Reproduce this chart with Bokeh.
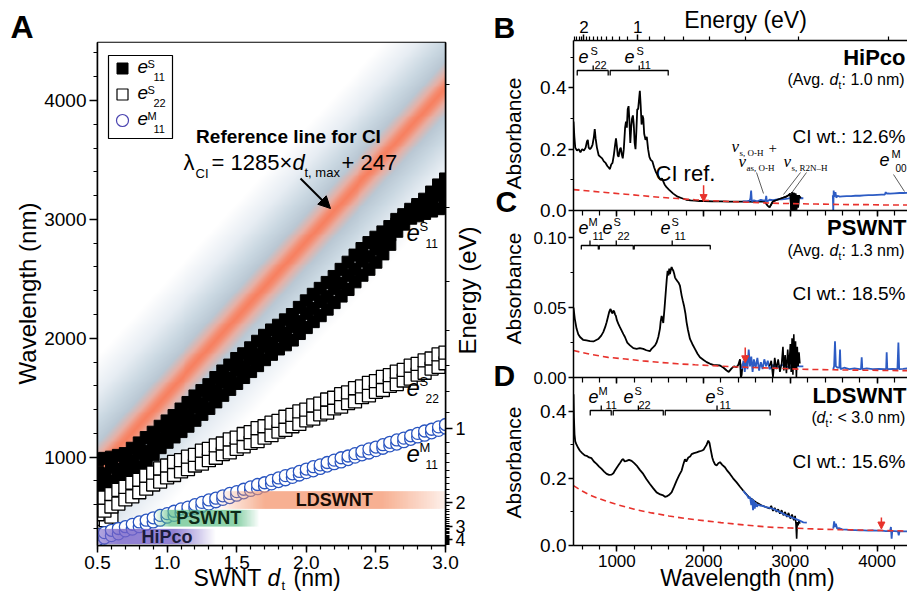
import numpy as np
from bokeh.plotting import figure
from bokeh.layouts import row, column
from bokeh.models import (Range1d, LinearAxis, FixedTicker, SingleIntervalTicker,
                          Label, Arrow, NormalHead, PrintfTickFormatter)
from bokeh.embed import file_html
from bokeh.resources import INLINE

SANS = "Liberation Sans"
SERIF = "Liberation Serif"
BLUE = "#2d5cc4"
RED = "#e8322c"
CIRC = "#2a55c0"

# ====================== DATA ======================
# Panel A (Kataura-type plot): SWNT diameter (nm) vs transition wavelength (nm)
d_grid = [0.50, 0.55, 0.60, 0.65, 0.70, 0.75, 0.80, 0.85, 0.90, 0.95,
          1.00, 1.05, 1.10, 1.15, 1.20, 1.25, 1.30, 1.35, 1.40, 1.45,
          1.50, 1.55, 1.60, 1.65, 1.70, 1.75, 1.80, 1.85, 1.90, 1.95,
          2.00, 2.05, 2.10, 2.15, 2.20, 2.25, 2.30, 2.35, 2.40, 2.45,
          2.50, 2.55, 2.60, 2.65, 2.70, 2.75, 2.80, 2.85, 2.90, 2.95, 3.00]
e11s_lo = [745, 770, 800, 825, 855, 885, 920, 960, 1020, 1080,
           1125, 1170, 1215, 1260, 1310, 1360, 1410, 1465, 1520, 1570,
           1620, 1670, 1720, 1770, 1820, 1865, 1910, 1945, 1985, 2040,
           2090, 2140, 2190, 2245, 2300, 2355, 2410, 2475, 2530, 2580,
           2640, 2710, 2790, 2900, 2960, 3010, 3030, 3050, 3070, 3090, 3110]
e11s_mid = [870, 860, 910, 900, 950, 970, 1030, 1050, 1120, 1160,
            1225, 1250, 1320, 1350, 1420, 1450, 1520, 1560, 1630, 1665,
            1730, 1765, 1825, 1865, 1930, 1960, 2020, 2045, 2100, 2140,
            2210, 2250, 2310, 2350, 2420, 2460, 2530, 2580, 2650, 2685,
            2750, 2800, 2870, 2960, 3010, 3060, 3100, 3140, 3170, 3200, 3240]
e11s_hi = [980, 990, 1000, 1015, 1030, 1075, 1120, 1165, 1210, 1260,
           1305, 1350, 1405, 1460, 1515, 1560, 1610, 1670, 1725, 1775,
           1830, 1870, 1920, 1975, 2025, 2070, 2110, 2155, 2200, 2260,
           2315, 2370, 2420, 2470, 2520, 2580, 2640, 2700, 2755, 2805,
           2850, 2895, 2940, 3000, 3040, 3085, 3125, 3170, 3230, 3290, 3340]
e22s_lo = [520, 550, 585, 610, 645, 670, 705, 735, 770, 795,
           830, 850, 880, 900, 930, 945, 975, 995, 1025, 1040,
           1070, 1090, 1120, 1135, 1165, 1185, 1215, 1230, 1260, 1280,
           1310, 1325, 1360, 1375, 1410, 1425, 1455, 1470, 1505, 1520,
           1550, 1565, 1600, 1615, 1645, 1660, 1695, 1710, 1745, 1760, 1790]
e22s_hi = [640, 660, 690, 725, 750, 785, 810, 845, 870, 905,
           930, 960, 975, 1005, 1020, 1055, 1070, 1100, 1115, 1150,
           1165, 1195, 1210, 1245, 1260, 1290, 1305, 1340, 1355, 1385,
           1400, 1435, 1450, 1485, 1500, 1530, 1545, 1580, 1595, 1625,
           1640, 1675, 1690, 1720, 1735, 1770, 1785, 1815, 1830, 1865, 1880]
e22s_extra_d = [0.50, 0.52, 0.56, 0.60]
e22s_extra_l = [455, 480, 470, 500]
e11m_lo = [305, 320, 340, 355, 380, 395, 415, 435, 455, 470,
           495, 510, 530, 550, 570, 585, 605, 625, 645, 660,
           680, 700, 720, 735, 755, 775, 795, 810, 830, 850,
           870, 885, 905, 925, 945, 960, 980, 1000, 1020, 1035,
           1055, 1075, 1095, 1110, 1130, 1150, 1170, 1185, 1205, 1225, 1245]
e11m_hi = [350, 365, 385, 400, 415, 435, 455, 470, 490, 510,
           525, 545, 565, 580, 600, 620, 640, 655, 675, 695,
           710, 730, 750, 770, 785, 805, 825, 845, 860, 880,
           900, 920, 935, 955, 975, 995, 1010, 1030, 1050, 1070,
           1085, 1105, 1125, 1145, 1160, 1180, 1200, 1220, 1235, 1255, 1275]

ci_slope, ci_intercept = 1285, 247          # lambda_CI = 1285 x d_t,max + 247

bar_names = ["HiPco", "PSWNT", "LDSWNT"]
bar_lam_low = [268, 416, 565]
bar_lam_high = [397, 557, 714]
bar_alpha_d = [[0.50, 0.65, 1.05, 1.35], [0.90, 1.02, 1.50, 1.66], [1.34, 1.70, 2.55, 3.00]]
bar_alpha_a = [[0.55, 0.80, 0.80, 0.0], [0.0, 0.72, 0.72, 0.0], [0.0, 0.75, 0.75, 0.15]]
bar_rgb = [(118, 98, 200), (96, 192, 136), (244, 150, 110)]
bar_text_d = [1.0, 1.3, 2.2]
bar_text_color = ["#1b1b3b", "#0d2b18", "#1a0d05"]

energy_major_A = [1.0, 2.0, 3.0, 4.0]
energy_major_B = [1.0, 2.0]

# Panel B (HiPco)
B_blk_x = [500, 510, 520, 540, 560, 580, 600, 620, 640, 655,
           665, 675, 690, 705, 720, 735, 745, 755, 770, 790,
           810, 830, 850, 870, 890, 905, 920, 935, 950, 965,
           980, 990, 1000, 1010, 1020, 1035, 1045, 1055, 1068, 1080,
           1095, 1105, 1115, 1125, 1135, 1145, 1155, 1165, 1175, 1185,
           1195, 1205, 1215, 1225, 1235, 1245, 1255, 1265, 1275, 1285,
           1295, 1305, 1315, 1330, 1345, 1360, 1375, 1390, 1410, 1430,
           1450, 1470, 1490, 1505, 1520, 1535, 1550, 1575, 1600, 1650,
           1700, 1750, 1800, 1850, 1900, 1950, 2000, 2100, 2200, 2300,
           2400, 2500, 2600, 2700, 2740, 2760, 2780, 2800, 2850, 2900,
           2950, 2980, 3000, 3010, 3020, 3030, 3040, 3050, 3060, 3070,
           3080, 3090, 3100, 3110, 3120]
B_blk_y = [0.29, 0.24, 0.205, 0.195, 0.2, 0.19, 0.2, 0.195, 0.205, 0.225,
           0.23, 0.205, 0.2, 0.205, 0.215, 0.24, 0.265, 0.235, 0.205, 0.18,
           0.175, 0.17, 0.16, 0.155, 0.145, 0.14, 0.135, 0.15, 0.155, 0.18,
           0.215, 0.235, 0.21, 0.18, 0.175, 0.2, 0.205, 0.185, 0.17, 0.2,
           0.27, 0.29, 0.27, 0.33, 0.34, 0.29, 0.22, 0.27, 0.3, 0.31,
           0.28, 0.22, 0.2, 0.26, 0.33, 0.33, 0.36, 0.39, 0.34, 0.28,
           0.31, 0.3, 0.25, 0.23, 0.24, 0.2, 0.175, 0.165, 0.16, 0.14,
           0.125, 0.115, 0.105, 0.1, 0.105, 0.095, 0.085, 0.075, 0.068, 0.055,
           0.045, 0.04, 0.035, 0.033, 0.032, 0.031, 0.031, 0.03, 0.03, 0.029,
           0.029, 0.029, 0.028, 0.03, 0.015, 0.01, 0.02, 0.03, 0.035, 0.04,
           0.045, 0.05, 0.055, 0.0, 0.06, 0.002, 0.058, 0.0, 0.055, 0.003,
           0.05, 0.01, 0.05, 0.04, 0.045]
B_bl1_x = [2450, 2500, 2530, 2540, 2548, 2556, 2580, 2620, 2660, 2700,
           2715, 2722, 2730, 2760, 2800, 2850, 2900, 2950, 3000, 3050, 3100, 3150]
B_bl1_y = [0.03, 0.03, 0.032, 0.04, 0.065, 0.03, 0.033, 0.03, 0.035, 0.032,
           0.034, 0.048, 0.028, 0.035, 0.034, 0.036, 0.036, 0.038, 0.04, 0.038, 0.04, 0.04]
B_bl2_x = [3490, 3495, 3500, 3505, 3512, 3520, 3530, 3545, 3570, 3600,
           3650, 3700, 3750, 3800, 3850, 3900, 3950, 4000, 4050, 4090,
           4100, 4110, 4125, 4150, 4200, 4260, 4300, 4360]
B_bl2_y = [0.05, 0.0, 0.065, 0.045, 0.05, 0.06, 0.042, 0.048, 0.045, 0.046,
           0.047, 0.047, 0.048, 0.048, 0.049, 0.05, 0.05, 0.051, 0.052, 0.052,
           0.06, 0.055, 0.056, 0.055, 0.056, 0.057, 0.057, 0.058]
B_red_x = [500, 700, 900, 1100, 1300, 1500, 1700, 1900, 2100, 2300,
           2500, 2700, 2900, 3100, 3300, 3500, 3700, 3900, 4100, 4360]
B_red_y = [0.068, 0.063, 0.058, 0.053, 0.048, 0.043, 0.039, 0.035, 0.032, 0.029,
           0.027, 0.025, 0.023, 0.022, 0.021, 0.02, 0.019, 0.019, 0.018, 0.018]

# Panel C (PSWNT)
C_blk_x = [500, 515, 535, 555, 575, 610, 650, 690, 730, 785,
           820, 843, 865, 882, 900, 912, 925, 931, 940, 951,
           960, 970, 980, 989, 1000, 1016, 1035, 1055, 1075, 1093,
           1120, 1151, 1190, 1228, 1265, 1304, 1340, 1381, 1400, 1420,
           1440, 1458, 1478, 1497, 1505, 1516, 1525, 1535, 1550, 1566,
           1575, 1585, 1595, 1604, 1612, 1622, 1631, 1641, 1651, 1660,
           1670, 1680, 1697, 1710, 1727, 1747, 1760, 1774, 1790, 1804,
           1820, 1843, 1870, 1900, 1930, 1958, 2000, 2035, 2075, 2112,
           2150, 2189, 2230, 2266, 2290, 2323, 2350, 2381, 2400, 2420,
           2430, 2439, 2450, 2458]
C_blk_y = [0.05, 0.042, 0.035, 0.031, 0.029, 0.027, 0.0265, 0.026, 0.0258, 0.0275,
           0.03, 0.0325, 0.036, 0.0395, 0.044, 0.047, 0.049, 0.0485, 0.0465, 0.046,
           0.048, 0.047, 0.045, 0.044, 0.041, 0.0385, 0.036, 0.0335, 0.031, 0.029,
           0.025, 0.023, 0.021, 0.0205, 0.021, 0.0205, 0.0195, 0.0188, 0.0205, 0.0217,
           0.023, 0.025, 0.029, 0.035, 0.04, 0.044, 0.042, 0.039, 0.05, 0.063,
           0.07, 0.0764, 0.073, 0.078, 0.074, 0.077, 0.079, 0.0775, 0.0764, 0.0745,
           0.0717, 0.0705, 0.069, 0.068, 0.0657, 0.0586, 0.055, 0.0514, 0.046, 0.0395,
           0.034, 0.0276, 0.024, 0.0205, 0.017, 0.0145, 0.0125, 0.011, 0.0098, 0.009,
           0.0088, 0.0086, 0.007, 0.005, 0.004, 0.0065, 0.008, 0.0075, 0.009, 0.013,
           0.0, 0.002, 0.01, 0.007]
C_bk2_x = [2760, 2780, 2800, 2820, 2840, 2860, 2880, 2900, 2915, 2925,
           2940, 2955, 2970, 2985, 3000, 3010, 3020, 3030, 3040, 3050,
           3060, 3070, 3080, 3090, 3100, 3110]
C_bk2_y = [0.008, 0.012, 0.0, 0.014, 0.006, 0.013, 0.004, 0.01, 0.022, 0.005,
           0.016, 0.003, 0.02, 0.006, 0.024, 0.004, 0.028, 0.002, 0.031, 0.006,
           0.026, 0.0, 0.022, 0.008, 0.018, 0.01]
C_bl1_x = [2440, 2460, 2475, 2490, 2505, 2520, 2535, 2550, 2565, 2580,
           2600, 2620, 2640, 2660, 2680, 2700, 2720, 2740, 2760, 2800,
           2850, 2900, 2950, 3000, 3050, 3100, 3150]
C_bl1_y = [0.006, 0.012, 0.004, 0.016, 0.006, 0.02, 0.008, 0.015, 0.004, 0.013,
           0.007, 0.014, 0.005, 0.011, 0.006, 0.013, 0.008, 0.012, 0.006, 0.009,
           0.007, 0.009, 0.008, 0.007, 0.009, 0.008, 0.008]
C_bl2_x = [3495, 3505, 3515, 3525, 3545, 3565, 3573, 3580, 3620, 3680,
           3740, 3800, 3815, 3823, 3830, 3880, 3950, 4020, 4090, 4105,
           4111, 4118, 4180, 4235, 4246, 4255, 4300, 4360]
C_bl2_y = [0.006, 0.008, 0.026, 0.008, 0.007, 0.007, 0.02, 0.006, 0.007, 0.006,
           0.0065, 0.006, 0.006, 0.0145, 0.006, 0.0065, 0.006, 0.0062, 0.006, 0.006,
           0.018, 0.006, 0.0062, 0.006, 0.025, 0.006, 0.0062, 0.0065]
C_red_x = [500, 700, 900, 1100, 1300, 1500, 1700, 1900, 2100, 2300,
           2500, 2700, 2900, 3100, 3300, 3500, 3700, 3900, 4100, 4360]
C_red_y = [0.0193, 0.0165, 0.0144, 0.0132, 0.0119, 0.0108, 0.0098, 0.0091, 0.0085, 0.0078,
           0.0073, 0.0069, 0.0065, 0.0060, 0.0057, 0.0055, 0.0053, 0.0052, 0.0050, 0.0049]

# Panel D (LDSWNT)
D_blk_x = [500, 505, 512, 520, 535, 555, 574, 600, 630, 651,
           680, 708, 735, 766, 795, 824, 853, 882, 910, 939,
           960, 978, 995, 1016, 1040, 1060, 1074, 1090, 1112, 1140,
           1170, 1200, 1228, 1265, 1304, 1340, 1381, 1420, 1458, 1500,
           1535, 1555, 1574, 1600, 1631, 1660, 1689, 1720, 1747, 1765,
           1785, 1800, 1824, 1845, 1862, 1890, 1920, 1950, 1977, 2000,
           2016, 2035, 2054, 2068, 2081, 2100, 2112, 2130, 2150, 2170,
           2189, 2215, 2246, 2275, 2304, 2340, 2381, 2420, 2458]
D_blk_y = [0.45, 0.38, 0.33, 0.31, 0.30, 0.29, 0.282, 0.275, 0.268, 0.267,
           0.262, 0.26, 0.25, 0.243, 0.235, 0.228, 0.22, 0.213, 0.21, 0.211,
           0.215, 0.223, 0.23, 0.238, 0.247, 0.255, 0.257, 0.25, 0.252, 0.255,
           0.252, 0.245, 0.238, 0.225, 0.213, 0.198, 0.183, 0.17, 0.158, 0.152,
           0.149, 0.145, 0.146, 0.15, 0.158, 0.175, 0.193, 0.21, 0.223, 0.24,
           0.257, 0.25, 0.262, 0.265, 0.272, 0.275, 0.277, 0.28, 0.282, 0.285,
           0.292, 0.3, 0.312, 0.305, 0.287, 0.262, 0.252, 0.242, 0.238, 0.245,
           0.248, 0.24, 0.233, 0.222, 0.213, 0.2, 0.188, 0.175, 0.163]
D_bk2_x = [2458, 2520, 2600, 2680, 2760, 2780, 2800, 2820, 2840, 2860,
           2880, 2900, 2920, 2940, 2960, 2980, 3000, 3020, 3040, 3055,
           3065, 3073, 3080, 3090, 3100, 3110]
D_bk2_y = [0.163, 0.145, 0.13, 0.118, 0.11, 0.118, 0.103, 0.112, 0.1, 0.108,
           0.095, 0.105, 0.09, 0.1, 0.085, 0.097, 0.08, 0.092, 0.075, 0.088,
           0.065, 0.02, 0.07, 0.06, 0.075, 0.065]
D_bl1_x = [2458, 2480, 2500, 2520, 2535, 2550, 2560, 2570, 2580, 2590,
           2600, 2615, 2630, 2650, 2680, 2720, 2760, 2804, 2850, 2900,
           2958, 3000, 3050, 3100, 3150, 3190]
D_bl1_y = [0.163, 0.155, 0.15, 0.14, 0.145, 0.12, 0.14, 0.105, 0.135, 0.11,
           0.128, 0.115, 0.122, 0.119, 0.118, 0.114, 0.112, 0.109, 0.103, 0.097,
           0.089, 0.085, 0.08, 0.075, 0.069, 0.068]
D_bl2_x = [3495, 3505, 3515, 3525, 3540, 3560, 3600, 3650, 3700, 3750,
           3800, 3850, 3900, 3950, 4000, 4050, 4100, 4150, 4160, 4168,
           4175, 4200, 4240, 4250, 4260, 4300, 4360]
D_bl2_y = [0.05, 0.072, 0.055, 0.065, 0.05, 0.052, 0.048, 0.047, 0.046, 0.046,
           0.045, 0.045, 0.044, 0.045, 0.044, 0.044, 0.043, 0.043, 0.055, 0.02,
           0.043, 0.043, 0.042, 0.03, 0.043, 0.042, 0.042]
D_red_x = [500, 600, 700, 800, 900, 1000, 1200, 1400, 1600, 1800, 2000, 2200,
           2400, 2600, 2800, 3000, 3200, 3400, 3600, 3800, 4000, 4200, 4360]
D_red_y = [0.178, 0.162, 0.149, 0.139, 0.13, 0.122, 0.108, 0.097, 0.088, 0.080, 0.074, 0.068,
           0.063, 0.058, 0.054, 0.052, 0.050, 0.048, 0.047, 0.046, 0.045, 0.044, 0.043]

# CI reference arrows (wavelength, arrow start, arrow tip)
ci_arrow_B = (2000, 0.082, 0.029)
ci_arrow_C = (2480, 0.0215, 0.0105)
ci_arrow_D = (4050, 0.083, 0.049)

# transition brackets (start, end, centre) in nm
B_brackets = [(543, 900, 727), (923, 1592, 1258)]
C_brackets = [(590, 786, 690), (797, 1189, 993), (1200, 2077, 1638)]
D_brackets = [(693, 935, 820), (958, 1535, 1248), (1558, 2768, 2155)]

# ====================== GEOMETRY (page pixels) ======================
XA = (0.5, 3.0)
YA = (257.0, 4488.0)
XR = (500.0, 4351.0)
PANELS = {"B": (40, 170, 0.554), "C": (210, 167, 0.1195), "D": (377, 168, 0.5)}


def conv_R(name):
    top, h, ymax = PANELS[name]

    def f(yp):
        return ymax * (top + h - yp) / h
    return f


def style_axis(ax, size, out=7, mout=4, tin=0, mtin=0, standoff=3):
    ax.axis_line_width = 1.5
    ax.axis_line_color = "black"
    ax.major_tick_line_width = 1.5
    ax.minor_tick_line_width = 1.2
    ax.major_tick_out = out
    ax.minor_tick_out = mout
    ax.major_tick_in = tin
    ax.minor_tick_in = mtin
    ax.major_label_text_font = SANS
    ax.major_label_text_font_size = f"{size}px"
    ax.major_label_text_color = "black"
    ax.major_label_standoff = standoff


def energy_ticker(majors, kmin, kmax):
    ticks = [round(1240.0 / e, 1) for e in majors]
    minors = [round(1240.0 / (0.1 * k), 1) for k in range(kmin, kmax + 1) if k % 10 != 0]
    overrides = {round(1240.0 / e, 1): str(int(e)) for e in majors}
    return FixedTicker(ticks=ticks, minor_ticks=minors), overrides


# ====================== PANEL A ======================
pA = figure(width=480, height=595, x_range=Range1d(*XA), y_range=Range1d(*YA),
            output_backend="svg", toolbar_location=None,
            min_border_left=97, min_border_right=35, min_border_top=42, min_border_bottom=50)
pA.grid.visible = False
pA.outline_line_color = "black"
pA.outline_line_width = 1.5
pA.xaxis.ticker = SingleIntervalTicker(interval=0.5, num_minor_ticks=5)
pA.xaxis.formatter = PrintfTickFormatter(format="%.1f")
pA.yaxis.ticker = SingleIntervalTicker(interval=1000, num_minor_ticks=5)
for ax in pA.xaxis:
    style_axis(ax, 19, out=7, mout=4, standoff=3)
for ax in pA.yaxis:
    style_axis(ax, 19, out=8, mout=4, standoff=3)
etk, eov = energy_ticker(energy_major_A, 3, 46)
eaxis = LinearAxis(ticker=etk, major_label_overrides=eov)
style_axis(eaxis, 18, out=7, mout=4, standoff=3)
pA.add_layout(eaxis, "right")

# gradient band around the CI reference line
nx, ny = 350, 520
GD, GL = np.meshgrid(np.linspace(XA[0], XA[1], nx), np.linspace(YA[0], YA[1], ny))
dist = np.abs(GL - (ci_slope * GD + ci_intercept))
grad_t = [0, 45, 120, 230, 400, 650, 950]
grad_rgb = [[248, 246, 232, 186, 202, 232, 255],
            [128, 140, 176, 200, 216, 238, 255],
            [96, 112, 165, 212, 226, 244, 255]]
img = np.zeros((ny, nx), dtype=np.uint32)
view = img.view(dtype=np.uint8).reshape((ny, nx, 4))
for c in range(3):
    view[..., c] = np.interp(dist, grad_t, grad_rgb[c]).astype(np.uint8)
view[..., 3] = 255
pA.image_rgba(image=[img], x=XA[0], y=YA[0], dw=XA[1] - XA[0], dh=YA[1] - YA[0])

# e11S: filled squares
pA.scatter(d_grid * 3, e11s_lo + e11s_mid + e11s_hi, marker="square", size=12,
           fill_color="black", line_color="black")
# e22S: open squares
xs22, ys22 = list(e22s_extra_d), list(e22s_extra_l)
for d, lo, hi in zip(d_grid, e22s_lo, e22s_hi):
    xs22 += [d, d]
    ys22 += [lo, hi]
pA.scatter(xs22, ys22, marker="square", size=13, fill_color="white",
           line_color="black", line_width=1.3)
# e11M: open circles
xsm, ysm = [], []
for d, lo, hi in zip(d_grid, e11m_lo, e11m_hi):
    xsm += [d, d]
    ysm += [lo, hi]
pA.scatter(xsm, ysm, marker="circle", size=12, fill_color="white",
           line_color=CIRC, line_width=1.3)

# sample diameter bars
for i in range(3):
    d0, d1 = bar_alpha_d[i][0], bar_alpha_d[i][-1]
    n = 240
    xs = np.linspace(d0, d1, n)
    al = np.interp(xs, bar_alpha_d[i], bar_alpha_a[i])
    bim = np.zeros((1, n), dtype=np.uint32)
    bv = bim.view(dtype=np.uint8).reshape((1, n, 4))
    for c in range(3):
        bv[0, :, c] = bar_rgb[i][c]
    bv[0, :, 3] = (al * 255).astype(np.uint8)
    pA.image_rgba(image=[bim], x=d0, y=bar_lam_low[i], dw=d1 - d0,
                  dh=bar_lam_high[i] - bar_lam_low[i])
    pA.add_layout(Label(x=bar_text_d[i], y=(bar_lam_low[i] + bar_lam_high[i]) / 2,
                        text=bar_names[i], text_font=SANS, text_font_size="18px",
                        text_font_style="bold", text_align="center",
                        text_baseline="middle", text_color=bar_text_color[i]))

# ====================== PANELS B, C, D ======================
xr = Range1d(*XR)


def make_panel(name, height, top_b, bot_b, ystep, tsize, fmt, margin):
    top, h, ymax = PANELS[name]
    p = figure(width=427, height=height, x_range=xr, y_range=Range1d(0, ymax),
               x_axis_location="above", output_backend="svg", toolbar_location=None,
               min_border_left=93, min_border_right=0, min_border_top=top_b,
               min_border_bottom=bot_b, margin=margin)
    p.grid.visible = False
    p.outline_line_color = None
    p.border_fill_alpha = 0
    p.background_fill_alpha = 0
    p.yaxis.ticker = SingleIntervalTicker(interval=ystep, num_minor_ticks=2)
    p.yaxis.formatter = PrintfTickFormatter(format=fmt)
    for ax in p.yaxis:
        style_axis(ax, tsize, out=5, mout=3, standoff=2)
    return p


pB = make_panel("B", 222, 40, 12, 0.2, 19, "%.1f", (0, 0, 0, 0))
pC = make_panel("C", 191, 12, 12, 0.05, 17, "%.2f", (-24, 0, 0, 0))
pD = make_panel("D", 230, 12, 50, 0.2, 19, "%.1f", (-24, 0, 0, 0))

btk, bov = energy_ticker(energy_major_B, 3, 24)
pB.xaxis.ticker = btk
pB.xaxis.major_label_overrides = bov
for ax in pB.xaxis:
    style_axis(ax, 17, out=6, mout=4, standoff=2)
for p in (pC, pD):
    p.xaxis.ticker = SingleIntervalTicker(interval=1000, num_minor_ticks=5)
    for ax in p.xaxis:
        style_axis(ax, 1, out=0, mout=0, tin=6, mtin=5, standoff=0)
        ax.major_label_text_alpha = 0
dax = LinearAxis(ticker=SingleIntervalTicker(interval=1000, num_minor_ticks=5))
style_axis(dax, 17, out=6, mout=4, standoff=3)
pD.add_layout(dax, "below")


def spectra(p, blk, bk2, bl1, bl2, red, black_on_top=None):
    p.line(blk[0], blk[1], line_color="black", line_width=1.8)
    if bk2 is not None:
        p.line(bk2[0], bk2[1], line_color="black", line_width=1.6)
    p.line(bl1[0], bl1[1], line_color=BLUE, line_width=1.8)
    p.line(bl2[0], bl2[1], line_color=BLUE, line_width=1.8)
    if black_on_top is not None:
        p.line(black_on_top[0], black_on_top[1], line_color="black", line_width=1.6)
    p.line(red[0], red[1], line_color=RED, line_width=1.6, line_dash="6 4")


spectra(pB, (B_blk_x, B_blk_y), None, (B_bl1_x, B_bl1_y), (B_bl2_x, B_bl2_y),
        (B_red_x, B_red_y), black_on_top=(B_blk_x[-20:], B_blk_y[-20:]))
spectra(pC, (C_blk_x, C_blk_y), None, (C_bl1_x, C_bl1_y), (C_bl2_x, C_bl2_y),
        (C_red_x, C_red_y), black_on_top=(C_bk2_x, C_bk2_y))
spectra(pD, (D_blk_x, D_blk_y), (D_bk2_x, D_bk2_y), (D_bl1_x, D_bl1_y), (D_bl2_x, D_bl2_y),
        (D_red_x, D_red_y))

for p, arr in ((pB, ci_arrow_B), (pC, ci_arrow_C), (pD, ci_arrow_D)):
    p.add_layout(Arrow(end=NormalHead(size=7, fill_color=RED, line_color=RED, line_width=1),
                       x_start=arr[0], y_start=arr[1], x_end=arr[0], y_end=arr[2],
                       line_color=RED, line_width=1.5))


def brackets(p, conv, brs, y_line, y_end, y_mid):
    xs, ys = [], []
    yl, ye, ym = conv(y_line), conv(y_end), conv(y_mid)
    for a, b, c in brs:
        xs += [[a, a, b, b], [c, c]]
        ys += [[ye, yl, yl, ye], [yl, ym]]
    p.multi_line(xs, ys, line_color="black", line_width=1.3)


brackets(pB, conv_R("B"), B_brackets, 70, 75, 65)
brackets(pC, conv_R("C"), C_brackets, 245, 249, 240)
brackets(pD, conv_R("D"), D_brackets, 410, 415, 405)

# ====================== TEXT OVERLAY (page pixel coordinates) ======================
pO = figure(width=907, height=595, x_range=Range1d(0, 907), y_range=Range1d(595, 0),
            x_axis_location=None, y_axis_location=None, min_border=0,
            output_backend="svg", toolbar_location=None, margin=(-595, 0, 0, 0))
pO.grid.visible = False
pO.outline_line_color = None
pO.background_fill_alpha = 0
pO.border_fill_alpha = 0


def put(xp, yb, text, size, style="normal", align="left", color="black",
        font=SANS, angle=0.0, centre=False):
    # yb: baseline position (or centre position when centre=True)
    y = yb if centre else yb - 0.36 * size
    pO.add_layout(Label(x=xp, y=y, text=text, text_font=font,
                        text_font_size=f"{size}px", text_font_style=style,
                        text_align=align, text_baseline="middle",
                        text_color=color, angle=angle))


# ---- panel A texts
put(10, 38, "A", 32, style="bold")
put(27, 293, "Wavelength (nm)", 24, align="center", angle=np.pi / 2, centre=True)
put(193, 586, "SWNT ", 23)
put(267, 586, "d", 23, style="italic")
put(281, 590, "t", 13)
put(293, 586, "(nm)", 23)
put(467, 290, "Energy (eV)", 24, align="center", angle=np.pi / 2, centre=True)

# legend
pO.quad(left=[108], right=[172], top=[55], bottom=[138], fill_color="white",
        line_color="black", line_width=1.2)
pO.scatter([122], [68], marker="square", size=11, fill_color="black", line_color="black")
pO.scatter([122], [94], marker="square", size=11, fill_color="white", line_color="black",
           line_width=1.2)
pO.scatter([122], [120], marker="circle", size=12, fill_color="white", line_color="#4a44b0",
           line_width=1.2)
for yb, sup, sub in [(73, "S", "11"), (99, "S", "22"), (125, "M", "11")]:
    put(137, yb, "e", 19, style="italic")
    put(147, yb - 6, sup, 11)
    put(153, yb + 7, sub, 11)

put(288, 143, "Reference line for CI", 19, style="bold", align="center")
put(183, 170, "λ", 22)
put(195, 178, "CI", 13)
put(211, 170, "= 1285×", 22)
put(292, 170, "d", 22, style="italic")
put(304, 177, "t, max", 13)
put(341, 170, "+ 247", 22)
pO.add_layout(Arrow(end=NormalHead(size=12, fill_color="black", line_color="black"),
                    x_start=300, y_start=178, x_end=330, y_end=208,
                    line_color="black", line_width=2))

for yb, sup, sub in [(241, "S", "11"), (396, "S", "22"), (462, "M", "11")]:
    put(406, yb, "e", 24, style="italic")
    put(419, yb - 10, sup, 13)
    put(425, yb + 6, sub, 12)

# ---- right panel texts
put(493, 38, "B", 30, style="bold")
put(495, 212, "C", 30, style="bold")
put(493, 386, "D", 30, style="bold")
for yc in (133, 288, 462):
    put(513, yc, "Absorbance", 21, align="center", angle=np.pi / 2, centre=True)
put(745, 28, "Energy (eV)", 23, align="center")
put(747, 586, "Wavelength (nm)", 23, align="center")


def elabel(x, yb, sup, sub, sx, bx):
    put(x, yb, "e", 18, style="italic")
    put(x + sx, yb - 8, sup, 11)
    put(x + bx, yb + 6, sub, 11)


elabel(578, 62, "S", "22", 12, 16)
elabel(624, 62, "S", "11", 12, 15)
elabel(578, 233, "M", "11", 10, 14)
elabel(602, 233, "S", "22", 11, 15)
elabel(660, 233, "S", "11", 11, 14)
elabel(588, 402, "M", "11", 10, 17)
elabel(623, 402, "S", "22", 11, 15)
elabel(705, 402, "S", "11", 11, 14)

put(905, 65, "HiPco", 22, style="bold", align="right")
put(787, 85, "(Avg. ", 16)
put(829, 85, "d", 16, style="italic")
put(838, 89, "t", 10)
put(841, 85, ": 1.0 nm)", 16)
put(905, 143, "CI wt.: 12.6%", 19, align="right")
put(655, 181, "CI ref.", 22)
put(731, 152, "ν", 17, style="italic", font=SERIF)
put(739, 156, "s, O-H", 9, font=SERIF)
put(768, 153, "+", 15, font=SERIF)
put(738, 167, "ν", 17, style="italic", font=SERIF)
put(746, 171, "as, O-H", 9, font=SERIF)
put(783, 167, "ν", 17, style="italic", font=SERIF)
put(791, 171, "s, R2N–H", 9, font=SERIF)
put(879, 165, "e", 18, style="italic")
put(891, 157, "M", 11)
put(895, 171, "00", 10)
pO.segment([756, 800, 806, 893], [172, 172, 172, 174], [763, 783, 790, 904], [193, 194, 194, 191],
           line_color="#333333", line_width=0.8)

put(906, 235, "PSWNT", 22, style="bold", align="right")
put(787, 256, "(Avg. ", 16)
put(829, 256, "d", 16, style="italic")
put(838, 260, "t", 10)
put(841, 256, ": 1.3 nm)", 16)
put(905, 300, "CI wt.: 18.5%", 19, align="right")

put(906, 403, "LDSWNT", 22, style="bold", align="right")
put(811, 423, "(", 16)
put(816, 423, "d", 16, style="italic")
put(825, 427, "t", 10)
put(828, 423, ": < 3.0 nm)", 16)
put(905, 468, "CI wt.: 15.6%", 19, align="right")

layout = column(row(pA, column(pB, pC, pD)), pO)
open("out.html", "w", encoding="utf-8").write(file_html(layout, INLINE))
